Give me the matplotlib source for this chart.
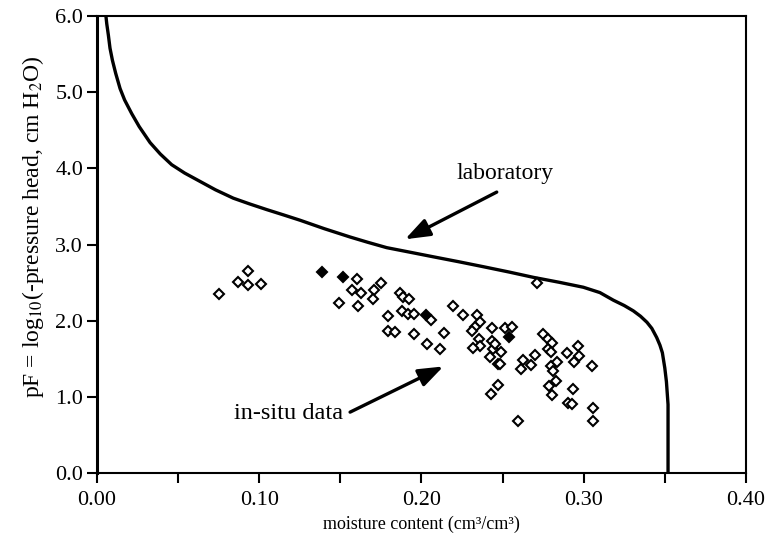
import matplotlib
matplotlib.use('Agg')
import matplotlib.pyplot as plt

plt.rcParams['font.family'] = ['Liberation Serif', 'DejaVu Serif']
plt.rcParams['mathtext.fontset'] = 'stix'

# laboratory retention curve
LAB_THETA = [0.0055, 0.006, 0.007, 0.008, 0.0095, 0.0115, 0.0142, 0.017, 0.0214,
             0.026, 0.0327, 0.039, 0.046, 0.054, 0.0635, 0.073, 0.084, 0.094,
             0.1046, 0.115, 0.1252, 0.14, 0.156, 0.167, 0.1786, 0.193, 0.2073,
             0.223, 0.2381, 0.254, 0.269, 0.285, 0.2998, 0.310, 0.3183, 0.325,
             0.3306, 0.335, 0.339, 0.342, 0.345, 0.347, 0.3485, 0.350, 0.351,
             0.3515, 0.352, 0.352]
LAB_PF = [6.0, 5.9, 5.75, 5.58, 5.42, 5.25, 5.05, 4.9, 4.72,
          4.55, 4.34, 4.19, 4.05, 3.94, 3.83, 3.72, 3.61, 3.535,
          3.46, 3.39, 3.32, 3.21, 3.10, 3.03, 2.96, 2.90, 2.84,
          2.775, 2.71, 2.64, 2.57, 2.505, 2.44, 2.37, 2.27, 2.20,
          2.13, 2.06, 1.98, 1.90, 1.78, 1.68, 1.58, 1.38, 1.20,
          1.05, 0.90, 0.0]

# in-situ measurements
INSITU_THETA = [0.0754, 0.0871, 0.0933, 0.0933, 0.1011, 0.1601, 0.157, 0.1626, 0.1494,
                0.1611, 0.1749, 0.1708, 0.170, 0.1868, 0.1888, 0.1925, 0.1878, 0.1919,
                0.1956, 0.2059, 0.1796, 0.1796, 0.1837, 0.1956, 0.2139, 0.2033, 0.2115,
                0.2193, 0.2258, 0.2341, 0.2361, 0.233, 0.231, 0.2433, 0.2357, 0.2361,
                0.2316, 0.2433, 0.2443, 0.2423, 0.2474, 0.2474, 0.2427, 0.2454, 0.2489,
                0.2485, 0.2515, 0.2556, 0.2711, 0.2752, 0.2782, 0.2803, 0.2782, 0.2797,
                0.2628, 0.2612, 0.2674, 0.27, 0.2797, 0.2838, 0.2810, 0.283, 0.2789,
                0.2803, 0.2896, 0.2967, 0.2973, 0.2941, 0.305, 0.2937, 0.2906, 0.2927,
                0.306, 0.306, 0.2597]
INSITU_PF = [2.35, 2.51, 2.65, 2.47, 2.48, 2.55, 2.41, 2.37, 2.23,
             2.20, 2.49, 2.40, 2.29, 2.37, 2.31, 2.28, 2.13, 2.09,
             2.09, 2.01, 2.06, 1.87, 1.85, 1.82, 1.84, 1.70, 1.63,
             2.19, 2.08, 2.08, 1.99, 1.92, 1.87, 1.90, 1.76, 1.67,
             1.64, 1.74, 1.63, 1.52, 1.43, 1.16, 1.04, 1.69, 1.59,
             1.43, 1.91, 1.92, 2.49, 1.82, 1.76, 1.71, 1.63, 1.59,
             1.49, 1.37, 1.42, 1.55, 1.40, 1.46, 1.34, 1.21, 1.14,
             1.02, 1.58, 1.67, 1.54, 1.46, 1.40, 1.11, 0.92, 0.91,
             0.85, 0.68, 0.68]
# spots where several diamonds overlap and print solid
DENSE_THETA = [0.1385, 0.1519, 0.2028, 0.2542]
DENSE_PF = [2.64, 2.58, 2.08, 1.79]

fig = plt.figure(figsize=(7.67, 5.4), dpi=100)
ax = fig.add_axes([0.1265, 0.124, 0.846, 0.846])

ax.plot(LAB_THETA, LAB_PF, color='black', lw=2.4, solid_joinstyle='round')
ax.plot(INSITU_THETA, INSITU_PF, ls='none', marker='D', ms=4.8, mfc='white',
        mec='black', mew=1.5)
ax.plot(DENSE_THETA, DENSE_PF, ls='none', marker='D', ms=5.2, mfc='black',
        mec='black', mew=1.5)

# labels and their arrows
arrow = dict(arrowstyle='-|>,head_length=1.5,head_width=0.55',
             color='black', lw=2.4, shrinkA=0, shrinkB=0)
ax.text(0.2515, 3.94, 'laboratory', ha='center', va='center', fontsize=17)
ax.annotate('', xy=(0.1899, 3.07), xytext=(0.2464, 3.69), arrowprops=arrow)
ax.text(0.118, 0.785, 'in-situ data', ha='center', va='center', fontsize=17.5)
ax.annotate('', xy=(0.2135, 1.40), xytext=(0.156, 0.80), arrowprops=arrow)

ax.set_xlim(0, 0.40)
ax.set_ylim(0, 6.0)
ax.set_xticks([0.0, 0.1, 0.2, 0.3, 0.4])
ax.set_xticklabels(['0.00', '0.10', '0.20', '0.30', '0.40'])
ax.set_xticks([0.05, 0.15, 0.25, 0.35], minor=True)
ax.set_yticks([0, 1, 2, 3, 4, 5, 6])
ax.set_yticklabels(['0.0', '1.0', '2.0', '3.0', '4.0', '5.0', '6.0'])
ax.tick_params(which='both', direction='out', length=7, width=1.5, labelsize=16,
               color='black')
ax.tick_params(axis='x', pad=6)
ax.tick_params(axis='y', pad=3)
for s in ax.spines.values():
    s.set_linewidth(1.5)
ax.spines['left'].set_linewidth(2.2)

ax.set_xlabel('moisture content (cm\u00b3/cm\u00b3)', fontsize=13, labelpad=4)
ax.set_ylabel(r'pF = log$_{10}$(-pressure head, cm H$_2$O)', fontsize=17, labelpad=7)
ax.yaxis.label.set_y(0.54)

fig.savefig('out.png', dpi=100)
